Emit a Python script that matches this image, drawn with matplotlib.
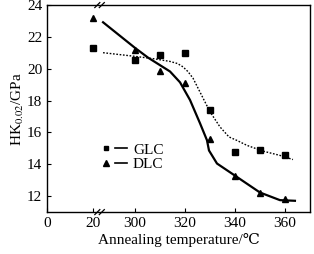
import numpy as np
import matplotlib
matplotlib.use("Agg")
import matplotlib.pyplot as plt
from matplotlib.lines import Line2D
from matplotlib.legend_handler import HandlerTuple

plt.rcParams['font.family'] = ['Liberation Serif', 'DejaVu Serif']
plt.rcParams['mathtext.fontset'] = 'stix'

# measured points
temps = [20, 300, 310, 320, 330, 340, 350, 360]
glc = [21.33, 20.53, 20.84, 20.99, 17.4, 14.77, 14.87, 14.56]
dlc = [23.2, 21.2, 19.83, 19.13, 15.61, 13.29, 12.23, 11.82]

# fitted curves
glc_fit_t = [287.2, 300, 308, 314, 317, 319.2, 321.2, 323.2, 327.6, 330, 334, 337.6, 340.8, 344.8, 351.2, 358, 363.2]
glc_fit_v = [21.01, 20.78, 20.62, 20.46, 20.33, 20.12, 19.82, 19.41, 18.04, 17.30, 16.35, 15.72, 15.5, 15.19, 14.83, 14.56, 14.30]
dlc_fit_t = [287.2, 300, 305.2, 314, 318, 322, 326, 328.8, 329.6, 332.8, 340, 350, 358, 364]
dlc_fit_v = [22.92, 21.31, 20.70, 19.83, 19.15, 18.04, 16.58, 15.51, 14.87, 14.05, 13.29, 12.23, 11.75, 11.71]

xticks = [0, 20, 300, 320, 340, 360]
yticks = [12, 14, 16, 18, 20, 22, 24]


def to_axis(t):
    # broken axis: 0..20 squeezed in front of 300..360
    t = np.asarray(t, dtype=float)
    return np.where(t <= 20, 264.8 + t * 0.92, t)


fig = plt.figure(figsize=(3.14, 2.54), dpi=100)
ax = fig.add_axes([0.150, 0.165, 0.837, 0.815])

ax.plot(to_axis(glc_fit_t), glc_fit_v, color='black', lw=1.0, ls=(0, (1.2, 1.2)))
ax.plot(to_axis(dlc_fit_t), dlc_fit_v, color='black', lw=1.6)
ax.plot(to_axis(temps), glc, 's', color='black', ms=4, ls='none')
ax.plot(to_axis(temps), dlc, '^', color='black', ms=4.5, ls='none')

ax.set_xlim(264.8, 370)
ax.set_ylim(11, 24)
ax.set_xticks(to_axis(xticks))
ax.set_xticklabels([str(v) for v in xticks])
ax.set_yticks(yticks)
ax.tick_params(direction='in', length=3, labelsize=11, top=False, right=False)
for s in ax.spines.values():
    s.set_linewidth(1.0)

# break marks
brk = 285.8
for yy in (0, 1):
    for dx in (-0.9, 0.9):
        ax.plot([brk + dx - 1.0, brk + dx + 1.0], [yy - 0.012, yy + 0.012],
                transform=ax.get_xaxis_transform(), color='black', lw=0.9, clip_on=False)

ax.set_xlabel('Annealing temperature/\u2103', fontsize=11, labelpad=2)
ax.set_ylabel('HK$_{0.02}$/GPa', fontsize=11, labelpad=1)

h_glc = (Line2D([], [], marker='s', color='black', ms=3.5, ls='none'),
         Line2D([], [], color='black', lw=1.2))
h_dlc = (Line2D([], [], marker='^', color='black', ms=4, ls='none'),
         Line2D([], [], color='black', lw=1.2))
ax.legend([h_glc, h_dlc], ['GLC', 'DLC'], handler_map={tuple: HandlerTuple(ndivide=None, pad=0.2)},
          loc='upper left', bbox_to_anchor=(0.17, 0.37), frameon=False, fontsize=11,
          handlelength=1.8, handletextpad=0.4, labelspacing=0.05, borderpad=0)

fig.savefig('out.png', dpi=100)
